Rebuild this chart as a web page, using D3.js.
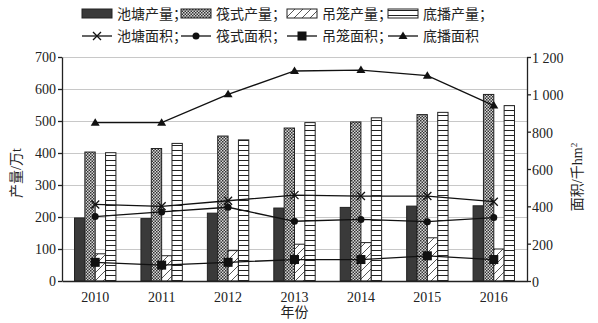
<!DOCTYPE html>
<html>
<head>
<meta charset="utf-8">
<script src="https://cdn.jsdelivr.net/npm/d3@7"></script>
<style>
  html, body { margin: 0; padding: 0; background: #fff; }
  svg { display: block; }
  text { font-family: "Liberation Serif", "Noto Sans CJK SC", serif; fill: #222; }
</style>
</head>
<body>
<svg id="chart" width="598" height="323"></svg>
<script>
// Years on the x axis
const years = ["2010", "2011", "2012", "2013", "2014", "2015", "2016"];

// Production (万t) by culture method
const pondOutput    = [197, 195, 212, 228, 230, 234, 235];
const raftOutput    = [403, 414, 453, 478, 497, 520, 583];
const cageOutput    = [85, 79, 95, 115, 120, 135, 100];
const bottomOutput  = [401, 430, 441, 495, 510, 527, 548];

// Area (千hm²) by culture method
const pondArea   = [410, 400, 430, 460, 455, 455, 425];
const raftArea   = [345, 370, 395, 320, 330, 318, 340];
const cageArea   = [100, 85, 100, 115, 115, 135, 115];
const bottomArea = [848, 848, 1000, 1125, 1130, 1100, 940];

// Axis ticks
const leftTicks  = [0, 100, 200, 300, 400, 500, 600, 700];
const rightTicks = [0, 200, 400, 600, 800, 1000, 1200];

const barNames  = ["池塘产量；", "筏式产量；", "吊笼产量；", "底播产量；"];
const lineNames = ["池塘面积；", "筏式面积；", "吊笼面积；", "底播面积"];

const svg = d3.select("#chart");
const m = { left: 62, right: 71, top: 57, bottom: 42 };
const W = 598, H = 323;
const x0 = m.left, x1 = W - m.right, yTop = m.top, yBot = H - m.bottom;

// Fill patterns
const defs = svg.append("defs");
const checker = defs.append("pattern").attr("id", "pCheck").attr("patternUnits", "userSpaceOnUse")
  .attr("width", 3).attr("height", 3);
checker.append("rect").attr("width", 3).attr("height", 3).attr("fill", "#d8d8d8");
checker.append("rect").attr("x", 0).attr("y", 0).attr("width", 1.5).attr("height", 1.5).attr("fill", "#333");
checker.append("rect").attr("x", 1.5).attr("y", 1.5).attr("width", 1.5).attr("height", 1.5).attr("fill", "#333");

const diag = defs.append("pattern").attr("id", "pDiag").attr("patternUnits", "userSpaceOnUse")
  .attr("width", 8).attr("height", 8);
diag.append("rect").attr("width", 8).attr("height", 8).attr("fill", "#fff");
diag.append("path").attr("d", "M-1,9 L9,-1 M-1,1 L1,-1 M7,9 L9,7").attr("stroke", "#444").attr("stroke-width", 0.9);

const horiz = defs.append("pattern").attr("id", "pHoriz").attr("patternUnits", "userSpaceOnUse")
  .attr("width", 6).attr("height", 5);
horiz.append("rect").attr("width", 6).attr("height", 5).attr("fill", "#fff");
horiz.append("rect").attr("y", 0).attr("width", 6).attr("height", 1).attr("fill", "#222");

const barFills = ["#3a3a3a", "url(#pCheck)", "url(#pDiag)", "url(#pHoriz)"];
const barSeries = [pondOutput, raftOutput, cageOutput, bottomOutput];

// Scales
const x = d3.scaleBand().domain(years).range([x0, x1]).padding(0);
const xs = d3.scaleBand().domain(d3.range(4)).range([-20.7, 20.7]).padding(0);
const yL = d3.scaleLinear().domain([0, 700]).range([yBot, yTop]);
const yR = d3.scaleLinear().domain([0, 1200]).range([yBot, yTop]);
const cx = d => x(d) + x.bandwidth() / 2;

// Gridlines
svg.append("g").selectAll("line").data(leftTicks.slice(1)).join("line")
  .attr("x1", x0).attr("x2", x1)
  .attr("y1", d => Math.round(yL(d)) + 0.5).attr("y2", d => Math.round(yL(d)) + 0.5)
  .attr("stroke", "#c8c8c8").attr("stroke-width", 1);

// Bars
barSeries.forEach((vals, si) => {
  svg.append("g").selectAll("rect").data(years).join("rect")
    .attr("x", d => cx(d) + xs(si))
    .attr("width", xs.bandwidth())
    .attr("y", (d, i) => yL(vals[i]))
    .attr("height", (d, i) => yBot - yL(vals[i]))
    .attr("fill", barFills[si])
    .attr("stroke", "#222").attr("stroke-width", 1);
});

// Axes
const axL = d3.axisLeft(yL).tickValues(leftTicks).tickSize(4).tickSizeOuter(0);
const gL = svg.append("g").attr("transform", `translate(${x0},0)`).call(axL);
const fmtR = d => d >= 1000 ? Math.floor(d / 1000) + " " + String(d % 1000).padStart(3, "0") : String(d);
const axR = d3.axisRight(yR).tickValues(rightTicks).tickFormat(fmtR).tickSize(4).tickSizeOuter(0);
const gR = svg.append("g").attr("transform", `translate(${x1},0)`).call(axR);
const axB = d3.axisBottom(x).tickSize(0).tickSizeOuter(0);
const gB = svg.append("g").attr("transform", `translate(0,${yBot})`).call(axB);
[gL, gR, gB].forEach(g => {
  g.selectAll("path, line").attr("stroke", "#222").attr("stroke-width", 1.3);
  g.selectAll("text").style("font-family", "Liberation Serif").style("font-size", "14px").attr("fill", "#222");
});
gL.selectAll("text").attr("x", -6);
gR.selectAll("text").attr("x", 5).attr("dy", "0.4em");
gB.selectAll("text").attr("dy", "1.25em");

// Axis titles
svg.append("text").attr("transform", `translate(21,${(yTop + yBot) / 2 + 4}) rotate(-90)`)
  .attr("text-anchor", "middle").style("font-size", "14px").text("产量/万t");
const rt = svg.append("text").attr("transform", `translate(582,${(yTop + yBot) / 2 + 8}) rotate(-90)`)
  .attr("text-anchor", "middle").style("font-size", "14px");
rt.append("tspan").text("面积/千hm");
rt.append("tspan").attr("dy", -5).style("font-size", "9px").text("2");
svg.append("text").attr("x", (x0 + x1) / 2).attr("y", 317).attr("text-anchor", "middle")
  .style("font-size", "14px").text("年份");

// Lines with markers
const lineSeries = [pondArea, raftArea, cageArea, bottomArea];
const line = d3.line().x(d => d[0]).y(d => d[1]);
const symbols = ["x", "circle", "square", "triangle"];

function drawMarker(g, kind, px, py) {
  if (kind === "x") {
    g.append("path").attr("d", `M${px - 4},${py - 4}L${px + 4},${py + 4}M${px - 4},${py + 4}L${px + 4},${py - 4}`)
      .attr("stroke", "#111").attr("stroke-width", 1.3);
  } else if (kind === "circle") {
    g.append("circle").attr("cx", px).attr("cy", py).attr("r", 3.5).attr("fill", "#111");
  } else if (kind === "square") {
    g.append("rect").attr("x", px - 4.5).attr("y", py - 4.5).attr("width", 9).attr("height", 9).attr("fill", "#111");
  } else {
    g.append("path").attr("d", `M${px},${py - 4.5}L${px + 4.5},${py + 3}L${px - 4.5},${py + 3}Z`).attr("fill", "#111");
  }
}

lineSeries.forEach((vals, si) => {
  const pts = years.map((yr, i) => [cx(yr), yR(vals[i])]);
  const g = svg.append("g");
  g.append("path").attr("d", line(pts)).attr("fill", "none").attr("stroke", "#111").attr("stroke-width", 1.3);
  pts.forEach(p => drawMarker(g, symbols[si], p[0], p[1]));
});

// Legend
const legX = [82, 181, 287, 388];
const legG = svg.append("g");
barNames.forEach((name, i) => {
  legG.append("rect").attr("x", legX[i]).attr("y", 9).attr("width", 30).attr("height", 9)
    .attr("fill", barFills[i]).attr("stroke", "#222").attr("stroke-width", 1);
  legG.append("text").attr("x", legX[i] + 35).attr("y", 19).style("font-size", "14px").text(name);
});
lineNames.forEach((name, i) => {
  const ly = 36;
  legG.append("line").attr("x1", legX[i]).attr("x2", legX[i] + 30).attr("y1", ly).attr("y2", ly)
    .attr("stroke", "#111").attr("stroke-width", 1.3);
  drawMarker(legG, symbols[i], legX[i] + 15, ly);
  legG.append("text").attr("x", legX[i] + 35).attr("y", 41).style("font-size", "14px").text(name);
});
</script>
</body>
</html>
